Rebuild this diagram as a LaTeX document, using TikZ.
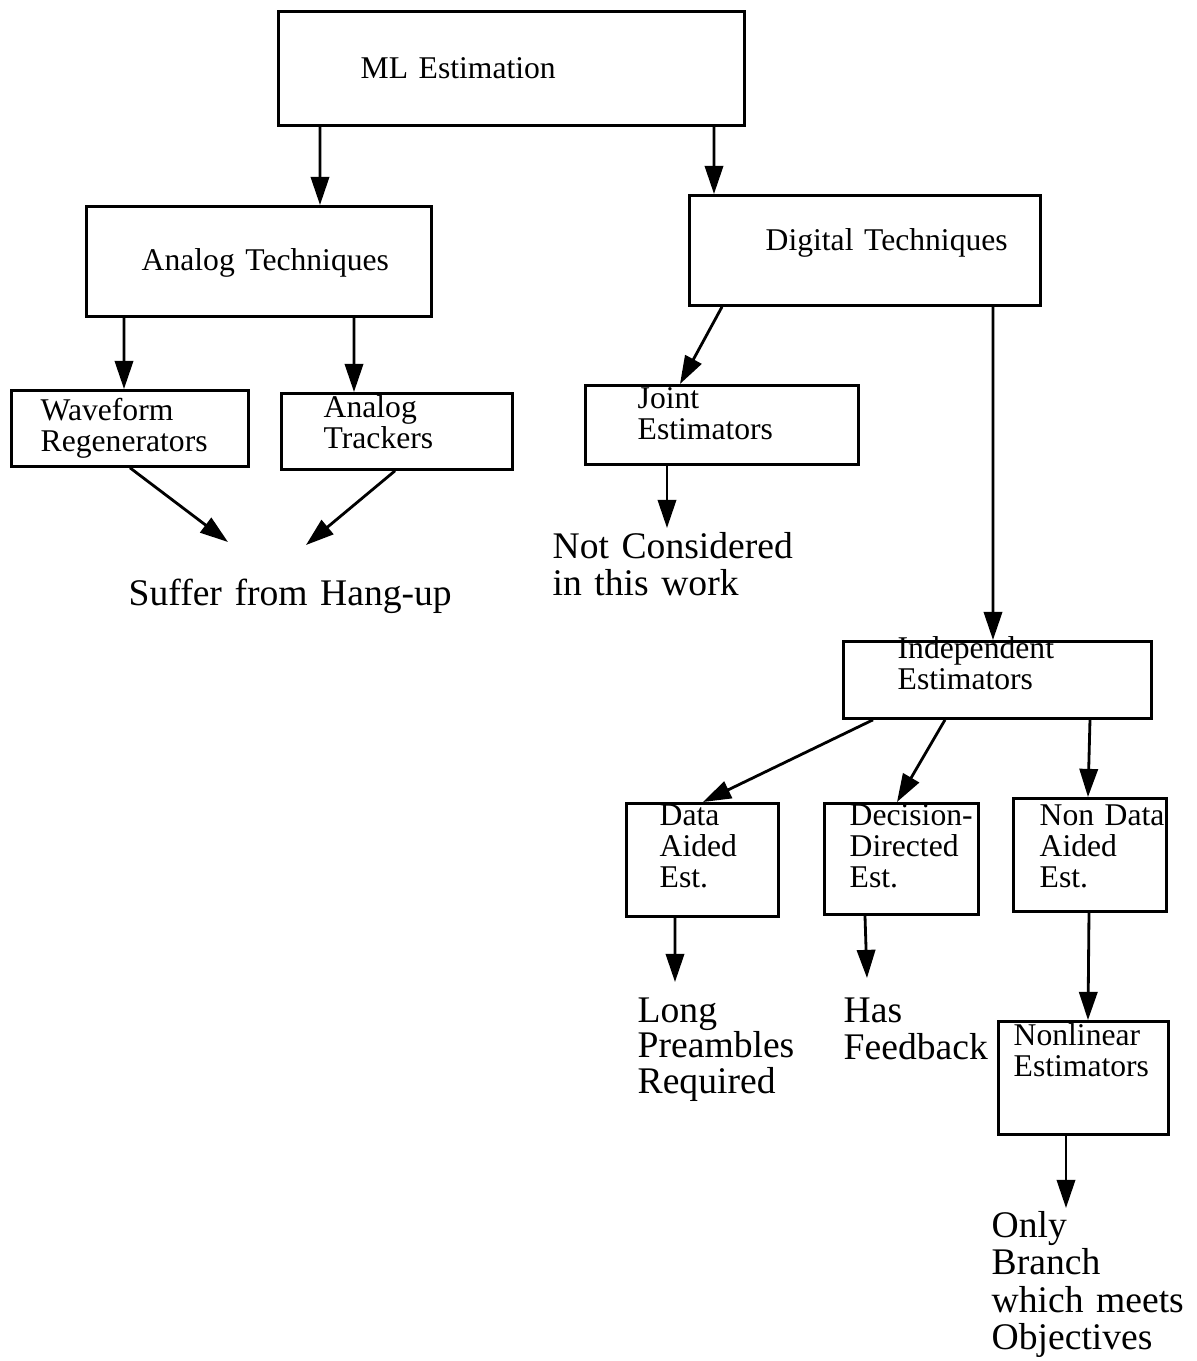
\documentclass[tikz,border=0pt]{standalone}
\usepackage{fontspec}
\setmainfont{Liberation Serif}
\usepackage{tikz}
\usetikzlibrary{arrows.meta,positioning}
\tikzset{
  estbox/.style={
    rectangle, draw=black, line width=0.8pt,
    inner sep=0pt, anchor=north west
  },
  boxtxt/.style={
    anchor=base west, inner sep=0pt, align=left, text width=3cm,
    font=\fontsize{9}{8.9}\selectfont
  },
  notetxt/.style={
    anchor=base west, inner sep=0pt, align=left, text width=3.5cm,
    font=\fontsize{10.7}{#1}\selectfont
  },
  notetxt/.default=10.5,
  flow/.style={
    -{Triangle[length=8pt, width=5.2pt]}, line width=0.8pt
  },
}

\begin{document}
\begin{tikzpicture}
  \useasboundingbox (0,0) rectangle (11.97,-13.61);

  % Top level
  \node[estbox, minimum width=4.66cm, minimum height=1.14cm] (ml) at (2.77,-0.10) {};
  \node[boxtxt] (mltxt) at (3.60,-0.78) {ML Estimation};

  % Analog branch
  \node[estbox, minimum width=3.45cm, minimum height=1.10cm] (ana) at (0.85,-2.05) {};
  \node[boxtxt] (anatxt) at (1.41,-2.70) {Analog Techniques};
  \node[estbox, minimum width=2.37cm, minimum height=0.76cm] (wave) at (0.10,-3.89) {};
  \node[boxtxt] (wavetxt) at (0.40,-4.20) {Waveform\\Regenerators};
  \node[estbox, minimum width=2.31cm, minimum height=0.76cm] (trk) at (2.80,-3.92) {};
  \node[boxtxt] (trktxt) at (3.23,-4.17) {Analog\\Trackers};
  \node[notetxt] (hang) at (1.28,-6.05) {Suffer from Hang-up};
  \coordinate (hangA) at (2.28,-5.42);
  \coordinate (hangB) at (3.06,-5.45);

  \draw[flow] ([xshift=0.43cm]ml.south west) -- ([xshift=2.35cm]ana.north west);
  \draw[flow] ([xshift=0.39cm]ana.south west) -- ([xshift=1.14cm]wave.north west);
  \draw[flow] ([xshift=2.69cm]ana.south west) -- ([xshift=0.74cm]trk.north west);
  \draw[flow] ([xshift=1.20cm]wave.south west) -- (hangA);
  \draw[flow] ([xshift=1.15cm]trk.south west) -- (hangB);

  % Digital branch
  \node[estbox, minimum width=3.51cm, minimum height=1.10cm] (dig) at (6.88,-1.94) {};
  \node[boxtxt] (digtxt) at (7.65,-2.50) {Digital Techniques};
  \node[estbox, minimum width=2.73cm, minimum height=0.79cm] (joint) at (5.84,-3.84) {};
  \node[boxtxt] (jointtxt) at (6.37,-4.08) {Joint\\Estimators};
  \node[notetxt=10.8] (notcons) at (5.52,-5.58) {Not Considered\\in this work};
  \coordinate (notA) at (6.67,-5.28);
  \node[estbox, minimum width=3.08cm, minimum height=0.77cm] (indep) at (8.42,-6.40) {};
  \node[boxtxt] (indeptxt) at (8.97,-6.58) {Independent\\Estimators};

  \draw[flow] ([xshift=4.37cm]ml.south west) -- ([xshift=0.26cm]dig.north west);
  \draw[flow] ([xshift=0.34cm]dig.south west) -- ([xshift=0.96cm]joint.north west);
  \draw[flow] ([xshift=0.83cm]joint.south west) -- (notA);
  \draw[flow] ([xshift=3.05cm]dig.south west) -- ([xshift=1.51cm]indep.north west);

  % Independent estimators
  \node[estbox, minimum width=1.52cm, minimum height=1.13cm] (dae) at (6.25,-8.02) {};
  \node[boxtxt] (daetxt) at (6.59,-8.25) {Data\\Aided\\Est.};
  \node[estbox, minimum width=1.54cm, minimum height=1.11cm] (dde) at (8.23,-8.02) {};
  \node[boxtxt] (ddetxt) at (8.49,-8.25) {Decision-\\Directed\\Est.};
  \node[estbox, minimum width=1.53cm, minimum height=1.13cm] (ndae) at (10.12,-7.97) {};
  \node[boxtxt] (ndaetxt) at (10.39,-8.25) {Non Data\\Aided\\Est.};
  \node[estbox, minimum width=1.70cm, minimum height=1.13cm] (nle) at (9.97,-10.20) {};
  \node[boxtxt] (nletxt) at (10.13,-10.45) {Nonlinear\\Estimators};

  \node[notetxt=10.1] (longpre) at (6.37,-10.22) {Long\\Preambles\\Required};
  \node[notetxt=10.8] (feedback) at (8.43,-10.22) {Has\\Feedback};
  \node[notetxt=10.7] (onlybr) at (9.91,-12.37) {Only\\Branch\\which meets\\Objectives};
  \coordinate (longA) at (6.75,-9.82);
  \coordinate (feedA) at (8.67,-9.78);
  \coordinate (onlyA) at (10.66,-12.08);

  \draw[flow] ([xshift=0.31cm]indep.south west) -- ([xshift=0.78cm]dae.north west);
  \draw[flow] ([xshift=1.03cm]indep.south west) -- ([xshift=0.74cm]dde.north west);
  \draw[flow] ([xshift=2.48cm]indep.south west) -- ([xshift=0.76cm]ndae.north west);
  \draw[flow] ([xshift=0.50cm]dae.south west) -- (longA);
  \draw[flow] ([xshift=0.42cm]dde.south west) -- (feedA);
  \draw[flow] ([xshift=0.77cm]ndae.south west) -- ([xshift=0.91cm]nle.north west);
  \draw[flow] ([xshift=0.69cm]nle.south west) -- (onlyA);
\end{tikzpicture}
\end{document}
